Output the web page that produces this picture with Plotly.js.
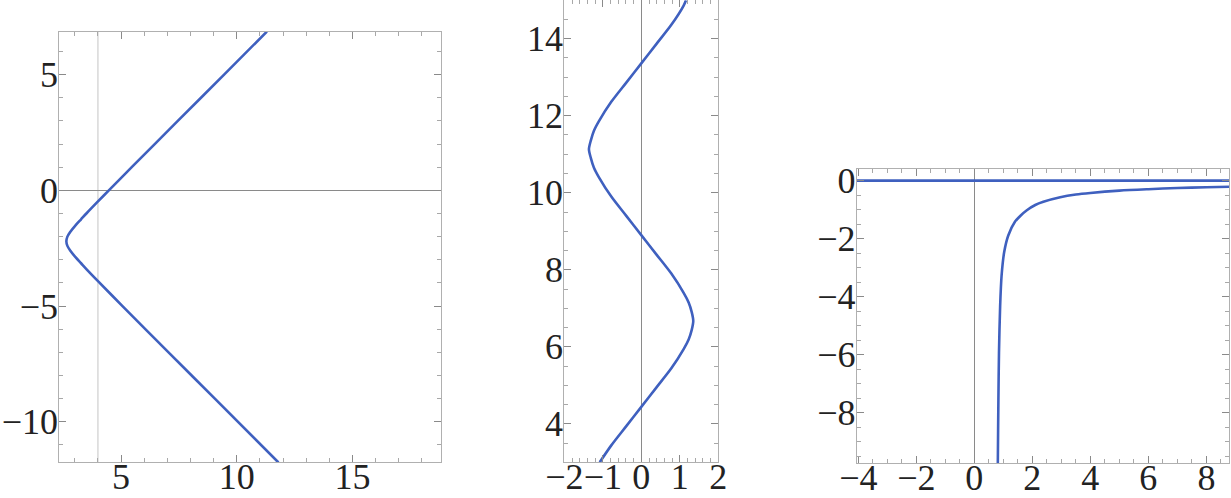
<!DOCTYPE html>
<html>
<head>
<meta charset="utf-8">
<script src="https://cdn.plot.ly/plotly-3.0.1.min.js"></script>
<style>html,body{margin:0;padding:0;background:#fff;}#chart{width:1231px;height:498px;}</style>
</head>
<body>
<div id="chart"></div>
<script>
// ---- Panel 1: hyperbola-like curve (x as function of y) ----
const p1Y = [6.86, 5, 3, 1, 0, -0.5, -1, -1.25, -1.5, -1.8, -2, -2.2, -2.4, -2.6, -2.9, -3.15, -3.4, -3.9, -5, -7, -9, -11.76];
const p1X = [11.30, 9.45, 7.45, 5.46, 4.47, 3.98, 3.50, 3.27, 3.04, 2.80, 2.68, 2.635, 2.68, 2.80, 3.04, 3.27, 3.50, 3.98, 5.06, 7.05, 9.05, 11.80];
const p1AxisX = 4;          // vertical axis line position
const p1XTicks = [5, 10, 15];
const p1YTicks = [5, 0, -5, -10];

// ---- Panel 2: wavy curve (x as function of y) ----
const p2Y = [3.0, 3.44, 3.94, 4.44, 4.94, 5.44, 5.94, 6.19, 6.44, 6.67, 6.9, 7.15, 7.4, 7.9, 8.4, 8.9, 9.4, 9.9, 10.4, 10.65, 10.9, 11.13, 11.36, 11.61, 11.86, 12.36, 12.86, 13.36, 13.86, 14.36, 14.86, 15.0];
const p2X = [-1.08, -0.78, -0.39, 0, 0.39, 0.78, 1.10, 1.23, 1.31, 1.35, 1.31, 1.23, 1.10, 0.78, 0.39, 0, -0.39, -0.78, -1.10, -1.23, -1.31, -1.36, -1.31, -1.23, -1.10, -0.78, -0.39, 0, 0.39, 0.78, 1.10, 1.16];
const p2XTicks = [-2, -1, 0, 1, 2];
const p2YTicks = [4, 6, 8, 10, 12, 14];

// ---- Panel 3: asymptotic curve and horizontal branch ----
const p3X = [0.81, 0.82, 0.83, 0.85, 0.89, 0.94, 1.03, 1.17, 1.40, 1.60, 1.81, 2.10, 2.38, 2.96, 3.50, 4.0, 5.0, 6.0, 7.0, 8.0, 8.8];
const p3Y = [-9.76, -8.6, -7.56, -5.94, -4.32, -3.27, -2.46, -1.89, -1.42, -1.20, -1.02, -0.84, -0.73, -0.575, -0.48, -0.425, -0.345, -0.295, -0.255, -0.23, -0.21];
const p3HX = [-4.1, 8.8];
const p3HY = [0, 0];
const p3XTicks = [-4, -2, 0, 2, 4, 6, 8];
const p3YTicks = [0, -2, -4, -6, -8];

const W = 1231, H = 498;
const fx = p => p / W;
const fy = p => (H - p) / H;

const blue = '#3f60bf';
const FAMILY = 'Liberation Serif';
const FSIZE = 36;
const lineStyle = {color: blue, width: 2.6, shape: 'spline', smoothing: 0.8};

function axis(domain, range, tickvals, minorDtick, extra) {
  return Object.assign({
    domain: domain, range: range, tickmode: 'array', tickvals: tickvals,
    ticks: 'inside', ticklen: 7, tickwidth: 1, tickcolor: '#8a8a8a',
    showline: true, linecolor: '#b0b0b0', linewidth: 1, mirror: 'ticks',
    showgrid: false, zeroline: false, fixedrange: true, automargin: false,
    tickfont: {family: FAMILY, size: FSIZE, color: '#222222'},
    minor: {dtick: minorDtick, tick0: 0, ticks: 'inside', ticklen: 4, tickcolor: '#a8a8a8', showgrid: false}
  }, extra || {});
}
const xExtra = {ticklabelstandoff: -18, tickangle: 0};
const yExtra = {ticklabelstandoff: -7};

const traces = [
  {x: p1X, y: p1Y, xaxis: 'x', yaxis: 'y', mode: 'lines', line: lineStyle, hoverinfo: 'skip'},
  {x: p2X, y: p2Y, xaxis: 'x2', yaxis: 'y2', mode: 'lines', line: lineStyle, hoverinfo: 'skip'},
  {x: p3HX, y: p3HY, xaxis: 'x3', yaxis: 'y3', mode: 'lines', line: {color: blue, width: 2.8}, hoverinfo: 'skip'},
  {x: p3X, y: p3Y, xaxis: 'x3', yaxis: 'y3', mode: 'lines', line: lineStyle, hoverinfo: 'skip'}
];

const layout = {
  width: W, height: H, margin: {l: 0, r: 0, t: 0, b: 0, pad: 0},
  font: {family: FAMILY, size: FSIZE, color: '#222222'},
  paper_bgcolor: '#fff', plot_bgcolor: '#fff', showlegend: false,
  xaxis: axis([fx(59.3), fx(440.5)], [2.33, 18.8], p1XTicks, 1, Object.assign({anchor: 'y'}, xExtra)),
  yaxis: axis([fy(462.3), fy(31.7)], [-11.75, 6.854], p1YTicks, 1,
    Object.assign({anchor: 'x', zeroline: true, zerolinecolor: '#8a8a8a', zerolinewidth: 1}, yExtra)),
  xaxis2: axis([fx(564.3), fx(718.3)], [-2, 2], p2XTicks, 0.2,
    Object.assign({anchor: 'y2', zeroline: true, zerolinecolor: '#8a8a8a', zerolinewidth: 1}, xExtra)),
  yaxis2: axis([fy(462.3), fy(0.2)], [3, 15], p2YTicks, 0.5, Object.assign({anchor: 'x2'}, yExtra)),
  xaxis3: axis([fx(856.7), fx(1229.3)], [-4.055, 8.79], p3XTicks, 0.5,
    Object.assign({anchor: 'y3', zeroline: true, zerolinecolor: '#8a8a8a', zerolinewidth: 1}, xExtra)),
  yaxis3: axis([fy(463.3), fy(169.3)], [-9.74, 0.39], p3YTicks, 0.5, Object.assign({anchor: 'x3'}, yExtra)),
  shapes: [
    {type: 'line', xref: 'x', yref: 'y domain', x0: p1AxisX, x1: p1AxisX, y0: 0, y1: 1,
     line: {color: '#c4c4c4', width: 1}, layer: 'below'}
  ]
};

Plotly.newPlot('chart', traces, layout, {staticPlot: true, displayModeBar: false});
</script>
</body>
</html>
